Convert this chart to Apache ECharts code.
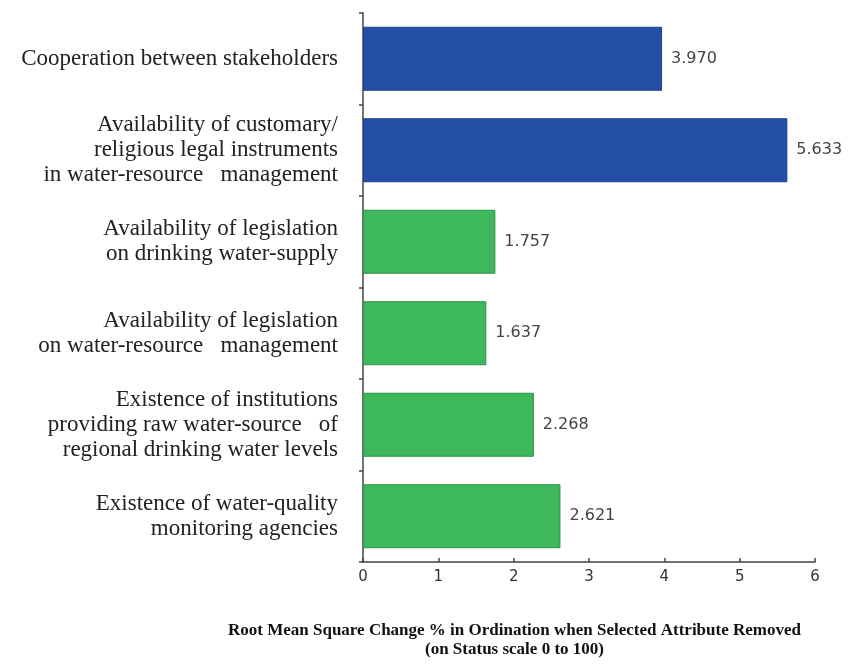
<!DOCTYPE html>
<html>
<head>
<meta charset="utf-8">
<script src="https://cdn.jsdelivr.net/npm/echarts@6/dist/echarts.min.js"></script>
<style>html,body{margin:0;padding:0;background:#fff}#c{width:849px;height:664px}</style>
</head>
<body>
<div id="c"></div>
<script>
const categories = [
  "Cooperation between stakeholders",
  "Availability of customary/\nreligious legal instruments\nin water-resource   management",
  "Availability of legislation\non drinking water-supply",
  "Availability of legislation\non water-resource   management",
  "Existence of institutions\nproviding raw water-source   of\nregional drinking water levels",
  "Existence of water-quality\nmonitoring agencies"
];
const values = [3.970, 5.633, 1.757, 1.637, 2.268, 2.621];
const barColors = ["#2350a6", "#2350a6", "#3db85a", "#3db85a", "#3db85a", "#3db85a"];
const borderColors = ["#1c3f86", "#1c3f86", "#2f9246", "#2f9246", "#2f9246", "#2f9246"];
const xTicks = [0, 1, 2, 3, 4, 5, 6];
const axisTitle = ["Root Mean Square Change % in Ordination when Selected Attribute Removed", "(on Status scale 0 to 100)"];

const chart = echarts.init(document.getElementById('c'), null, {renderer: 'canvas'});
chart.setOption({
  animation: false,
  grid: {left: 363, right: 34, top: 13, bottom: 102, containLabel: false},
  xAxis: {
    type: 'value', min: xTicks[0], max: xTicks[xTicks.length - 1], interval: 1,
    axisLine: {show: true, lineStyle: {color: '#444', width: 1.5}},
    axisTick: {show: true, inside: true, length: 4, lineStyle: {color: '#444', width: 1.5}},
    splitLine: {show: false},
    axisLabel: {color: '#333', fontFamily: 'DejaVu Sans', fontSize: 15, margin: 8}
  },
  yAxis: {
    type: 'category', data: categories, inverse: true,
    axisLine: {show: true, lineStyle: {color: '#444', width: 1.5}},
    axisTick: {show: true, length: 4, lineStyle: {color: '#444', width: 1.5}},
    axisLabel: {color: '#222', fontFamily: 'Liberation Serif', fontSize: 23, lineHeight: 25, margin: 25, align: 'right'}
  },
  series: [{
    type: 'bar',
    barWidth: 64,
    data: values.map((v, i) => ({value: v, itemStyle: {color: barColors[i], borderColor: borderColors[i], borderWidth: 1}})),
    label: {
      show: true, position: 'right', distance: 9,
      formatter: p => p.value.toFixed(3),
      color: '#444', fontFamily: 'DejaVu Sans', fontSize: 16
    }
  }],
  graphic: [{
    type: 'text', left: 228, top: 621,
    style: {
      text: axisTitle.join('\n'), textAlign: 'center',
      font: 'bold 17px "Liberation Serif"', fill: '#111', lineHeight: 19
    }
  }]
});
</script>
</body>
</html>
